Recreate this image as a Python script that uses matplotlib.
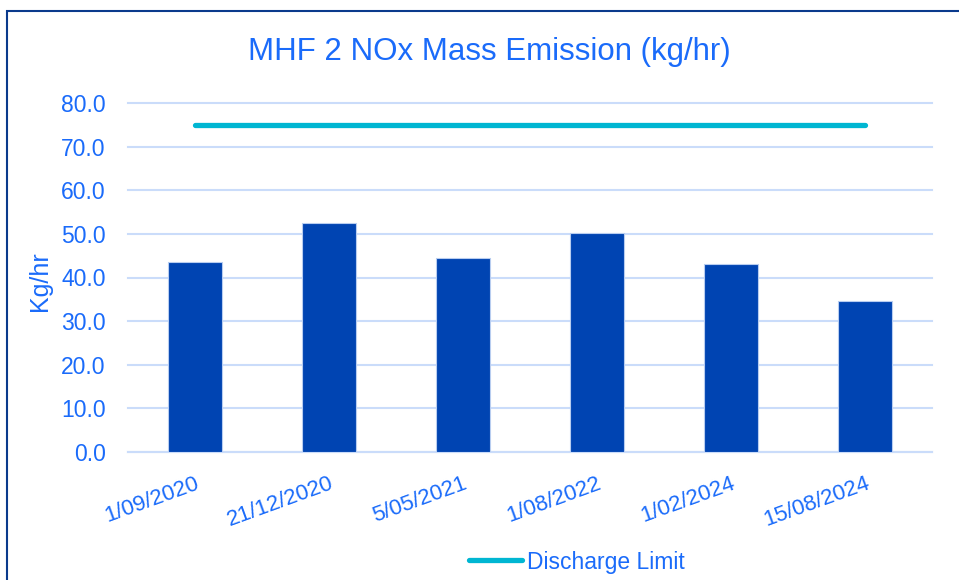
import matplotlib
matplotlib.use("Agg")
import matplotlib.pyplot as plt
from matplotlib.lines import Line2D
from matplotlib.patches import Rectangle

plt.rcParams['font.family'] = ['Liberation Sans', 'DejaVu Sans']

dates = ["1/09/2020", "21/12/2020", "5/05/2021", "1/08/2022", "1/02/2024", "15/08/2024"]
emission = [43.5, 52.6, 44.4, 50.2, 43.2, 34.6]
limit = [75.0, 75.0, 75.0, 75.0, 75.0, 75.0]
yticks = [0, 10, 20, 30, 40, 50, 60, 70, 80]

TXT = '#1A6BFA'
BAR = '#0044B2'
LIM = '#00B6D2'
GRID = '#CADCFA'

fig = plt.figure(figsize=(9.59, 5.80), dpi=100)
ax = fig.add_axes([128/959, 1-452/580, (932-128)/959, (452-103)/580])

x = list(range(len(dates)))
ax.bar(x, emission, width=0.4, color=BAR, edgecolor='#B8CDF0', linewidth=0.8, zorder=3)
ax.plot(x, limit, color=LIM, linewidth=3.8, solid_capstyle='round', zorder=4)

ax.set_xlim(-0.5, len(dates)-0.5)
ax.set_ylim(0, 80)
ax.set_yticks(yticks)
ax.set_yticklabels([f"{v:.1f}" for v in yticks], color=TXT, fontsize=16.5)
ax.set_xticks(x)
ax.set_xticklabels(dates, rotation=20, ha='right', rotation_mode='anchor', color=TXT, fontsize=16)
ax.tick_params(axis='both', length=0)
ax.tick_params(axis='y', pad=16)
ax.tick_params(axis='x', pad=15)
ax.grid(axis='y', color=GRID, linewidth=1.5, zorder=0)
for gl in ax.get_ygridlines():
    gl.set_clip_on(False)
for s in ['top', 'right', 'left']:
    ax.spines[s].set_visible(False)
ax.spines['bottom'].set_color(GRID)
ax.spines['bottom'].set_linewidth(1.5)

ax.set_ylabel("Kg/hr", color=TXT, fontsize=18)
ax.yaxis.set_label_coords((40-128)/(932-128), 0.49)
ax.yaxis.label.set_va('center')

fig.text(489/959, 1-52/580, "MHF 2 NOx Mass Emission (kg/hr)", color=TXT, fontsize=22.5,
         ha='center', va='center')

handle = Line2D([0], [0], color=LIM, linewidth=3.8, solid_capstyle='round')
fig.legend([handle], ["Discharge Limit"], loc='center', bbox_to_anchor=(577/959, 1-562/580),
           frameon=False, fontsize=16.5, labelcolor=TXT, handlelength=2.3, handletextpad=0.2)

fig.patches.append(Rectangle((7/959, -0.1), 1.2, 1-11/580+0.1, transform=fig.transFigure,
                             fill=False, edgecolor='#0A3A8C', linewidth=1.5))

fig.savefig("out.png", dpi=100)
